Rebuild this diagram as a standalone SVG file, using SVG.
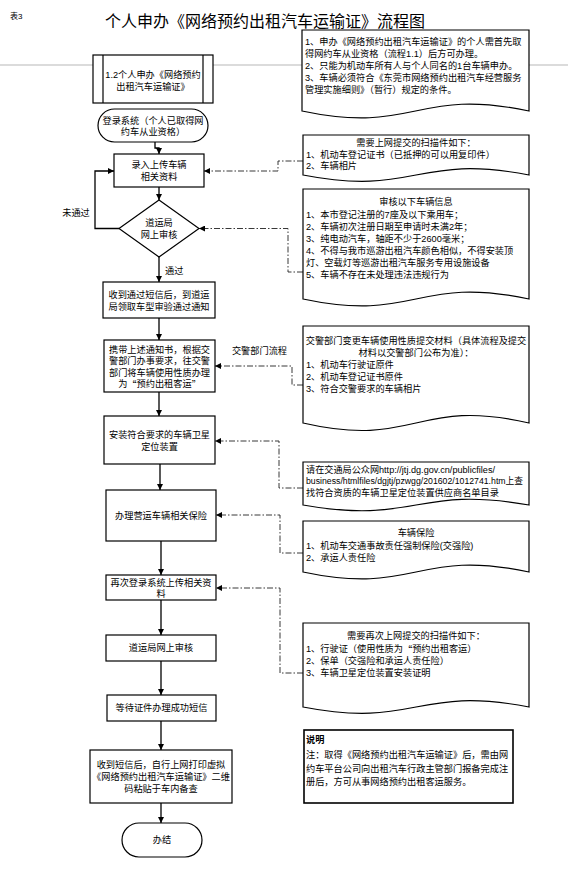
<svg xmlns="http://www.w3.org/2000/svg" width="568" height="871" viewBox="0 0 568 871">
<defs>
<marker id="ah" viewBox="0 0 10 10" refX="10" refY="5" markerWidth="6" markerHeight="6" markerUnits="userSpaceOnUse" orient="auto"><path d="M0,0 L10,5 L0,10 z" fill="#000"/></marker>
<style>
.n{fill:#fff;stroke:#000;stroke-width:1.2}
.t{font-family:"Liberation Sans","Noto Sans CJK SC",sans-serif;font-size:9.2px;fill:#000;dominant-baseline:central}
.c{text-anchor:middle}
.q{font-family:"Noto Sans CJK SC",sans-serif}
.flow{stroke:#000;stroke-width:1.3;fill:none;marker-end:url(#ah)}
.dd{stroke:#222;stroke-width:0.9;stroke-dasharray:6 2 1.5 2;fill:none;marker-end:url(#ah)}
.lbl{font-family:"Liberation Sans","Noto Sans CJK SC",sans-serif;font-size:9.2px;fill:#000;dominant-baseline:central}
</style>
</defs>
<rect width="568" height="871" fill="#fff"/>
<line x1="0" y1="65" x2="568" y2="65" stroke="#9a9a9a" stroke-width="0.7"/>
<text x="10" y="16" class="t" style="font-size:8px">表3</text>
<text x="105" y="20" style="font-family:'Noto Sans CJK SC',sans-serif;font-size:16px;dominant-baseline:central">个人申办《网络预约出租汽车运输证》流程图</text>

<g id="connectors">
<path class="flow" d="M155,142 V148 H159 V154"/>
<path class="flow" d="M159,187 V200"/>
<path class="flow" d="M119,228.5 H95 V171 H114"/>
<path class="flow" d="M159,257 V282"/>
<path class="flow" d="M159,318 V340"/>
<path class="flow" d="M159,392 V416"/>
<path class="flow" d="M160,464 V490"/>
<path class="flow" d="M161,541 V575"/>
<path class="flow" d="M161,600 V635"/>
<path class="flow" d="M161,661 V695"/>
<path class="flow" d="M161,721 V750"/>
<path class="flow" d="M161,803 V823"/>
<path class="dd" d="M303,161 H278 V171 H204"/>
<path class="dd" d="M303,272 H288 V228.5 H199"/>
<path class="dd" d="M303,385 H292 V366 H215"/>
<path class="dd" d="M303,488 H279 V441 H215"/>
<path class="dd" d="M303,553 H280 V515 H216"/>
<path class="dd" d="M303,673 H280 V588 H216"/>
<text x="76" y="213" class="lbl c">未通过</text>
<text x="165" y="271" class="lbl">通过</text>
<text x="259.5" y="351" class="lbl c">交警部门流程</text>
</g>

<g id="n-start">
<rect class="n" x="93" y="55" width="120" height="48"/>
<line x1="103" y1="55" x2="103" y2="103" stroke="#000" stroke-width="1.2"/>
<line x1="203" y1="55" x2="203" y2="103" stroke="#000" stroke-width="1.2"/>
<text x="153" y="74.5" class="t c">1.2个人申办《网络预约</text>
<text x="153" y="87" class="t c">出租汽车运输证》</text>
</g>
<g id="n-login">
<rect class="n" x="98" y="109" width="110" height="33" rx="16.5"/>
<text x="153" y="120.5" class="t c">登录系统（个人已取得网</text>
<text x="153" y="132" class="t c">约车从业资格）</text>
</g>
<g id="n-upload">
<rect class="n" x="114" y="154" width="90" height="33"/>
<text x="159" y="165" class="t c">录入上传车辆</text>
<text x="159" y="177" class="t c">相关资料</text>
</g>
<g id="n-review">
<polygon class="n" points="159,200 199,228.5 159,257 119,228.5"/>
<text x="159" y="222.5" class="t c">道运局</text>
<text x="159" y="235" class="t c">网上审核</text>
</g>
<g id="n-notice">
<rect class="n" x="103" y="282" width="112" height="36"/>
<text x="159" y="295" class="t c">收到通过短信后，到道运</text>
<text x="159" y="307" class="t c">局领取车型审验通过通知</text>
</g>
<g id="n-police">
<rect class="n" x="104" y="340" width="111" height="52"/>
<text x="159.5" y="349.5" class="t c">携带上述通知书，根据交</text>
<text x="159.5" y="361" class="t c">警部门办事要求，往交警</text>
<text x="159.5" y="372.5" class="t c">部门将车辆使用性质办理</text>
<text x="159.5" y="384" class="t c">为<tspan class="q">“</tspan>预约出租客运<tspan class="q">”</tspan></text>
</g>
<g id="n-gps">
<rect class="n" x="104" y="416" width="111" height="48"/>
<text x="159.5" y="435" class="t c">安装符合要求的车辆卫星</text>
<text x="159.5" y="447" class="t c">定位装置</text>
</g>
<g id="n-insure">
<rect class="n" x="106" y="490" width="110" height="51"/>
<text x="161" y="516" class="t c">办理营运车辆相关保险</text>
</g>
<g id="n-relogin">
<rect class="n" x="106" y="575" width="110" height="25"/>
<text x="161" y="582.5" class="t c">再次登录系统上传相关资</text>
<text x="161" y="594" class="t c">料</text>
</g>
<g id="n-review2">
<rect class="n" x="106" y="635" width="110" height="26"/>
<text x="161" y="648" class="t c">道运局网上审核</text>
</g>
<g id="n-wait">
<rect class="n" x="107" y="695" width="109" height="26"/>
<text x="161.5" y="708" class="t c">等待证件办理成功短信</text>
</g>
<g id="n-print">
<rect class="n" x="90" y="750" width="142" height="53"/>
<text x="161" y="764.5" class="t c">收到短信后，自行上网打印虚拟</text>
<text x="161" y="776.5" class="t c">《网络预约出租汽车运输证》二维</text>
<text x="161" y="788.5" class="t c">码粘贴于车内备查</text>
</g>
<g id="n-end">
<rect class="n" x="122" y="823" width="80" height="34" rx="17"/>
<text x="162" y="840" class="t c">办结</text>
</g>

<g id="d-notes">
<path class="n" d="M302,30 H529 V111 C415.5,87 415.5,135 302,111 Z"/>
<text x="305" y="42" class="t">1、申办《网络预约出租汽车运输证》的个人需首先取</text>
<text x="305" y="54" class="t">得网约车从业资格（流程1.1）后方可办理。</text>
<text x="305" y="66" class="t">2、只能为机动车所有人与个人同名的1台车辆申办。</text>
<text x="305" y="78" class="t">3、车辆必须符合《东莞市网络预约出租汽车经营服务</text>
<text x="305" y="90" class="t">管理实施细则》（暂行）规定的条件。</text>
</g>
<g id="d-scan1">
<path class="n" d="M303,135 H529 V175 C416,153 416,197 303,175 Z"/>
<text x="416" y="143" class="t c">需要上网提交的扫描件如下：</text>
<text x="306" y="154.5" class="t">1、机动车登记证书（已抵押的可以用复印件）</text>
<text x="306" y="166" class="t">2、车辆相片</text>
</g>
<g id="d-check">
<path class="n" d="M303,189 H529 V299 C416,275 416,323 303,299 Z"/>
<text x="416" y="202" class="t c">审核以下车辆信息</text>
<text x="306" y="215" class="t">1、本市登记注册的7座及以下乘用车；</text>
<text x="306" y="227" class="t">2、车辆初次注册日期至申请时未满2年；</text>
<text x="306" y="239" class="t">3、纯电动汽车，轴距不少于2600毫米；</text>
<text x="306" y="251" class="t">4、不得与我市巡游出租汽车颜色相似，不得安装顶</text>
<text x="306" y="263" class="t">灯、空载灯等巡游出租汽车服务专用设施设备</text>
<text x="306" y="275" class="t">5、车辆不存在未处理违法违规行为</text>
</g>
<g id="d-police">
<path class="n" d="M303,326 H529 V423 C416,397 416,449 303,423 Z"/>
<text x="416" y="341" class="t c">交警部门变更车辆使用性质提交材料（具体流程及提交</text>
<text x="416" y="353" class="t c">材料以交警部门公布为准）：</text>
<text x="306" y="364.5" class="t">1、机动车行驶证原件</text>
<text x="306" y="376.5" class="t">2、机动车登记证书原件</text>
<text x="306" y="388.5" class="t">3、符合交警要求的车辆相片</text>
</g>
<g id="d-gps">
<path class="n" d="M303,462 H529 V505 C416,485 416,525 303,505 Z"/>
<text x="306" y="469.5" class="t" textLength="189" lengthAdjust="spacingAndGlyphs">请在交通局公众网http://jtj.dg.gov.cn/publicfiles/</text>
<text x="306" y="481" class="t" textLength="217" lengthAdjust="spacingAndGlyphs">business/htmlfiles/dgjtj/pzwgg/201602/1012741.htm上查</text>
<text x="306" y="492.5" class="t">找符合资质的车辆卫星定位装置供应商名单目录</text>
</g>
<g id="d-insure">
<path class="n" d="M303,521 H529 V572 C416,548 416,596 303,572 Z"/>
<text x="416" y="533" class="t c">车辆保险</text>
<text x="306" y="546" class="t">1、机动车交通事故责任强制保险(交强险)</text>
<text x="306" y="558" class="t">2、承运人责任险</text>
</g>
<g id="d-scan2">
<path class="n" d="M303,623 H529 V707 C416,685 416,729 303,707 Z"/>
<text x="416" y="636" class="t c">需要再次上网提交的扫描件如下：</text>
<text x="306" y="649" class="t">1、行驶证（使用性质为<tspan class="q">“</tspan>预约出租客运）</text>
<text x="306" y="661" class="t">2、保单（交强险和承运人责任险）</text>
<text x="306" y="673" class="t">3、车辆卫星定位装置安装证明</text>
</g>
<g id="n-note">
<rect x="304" y="730" width="209" height="73" fill="#fff" stroke="#000" stroke-width="1.6"/>
<text x="306" y="740" class="t" style="font-weight:bold">说明</text>
<text x="306" y="755" class="t">注：取得《网络预约出租汽车运输证》后，需由网</text>
<text x="306" y="768.5" class="t">约车平台公司向出租汽车行政主管部门报备完成注</text>
<text x="306" y="782" class="t">册后，方可从事网络预约出租客运服务。</text>
</g>
</svg>
